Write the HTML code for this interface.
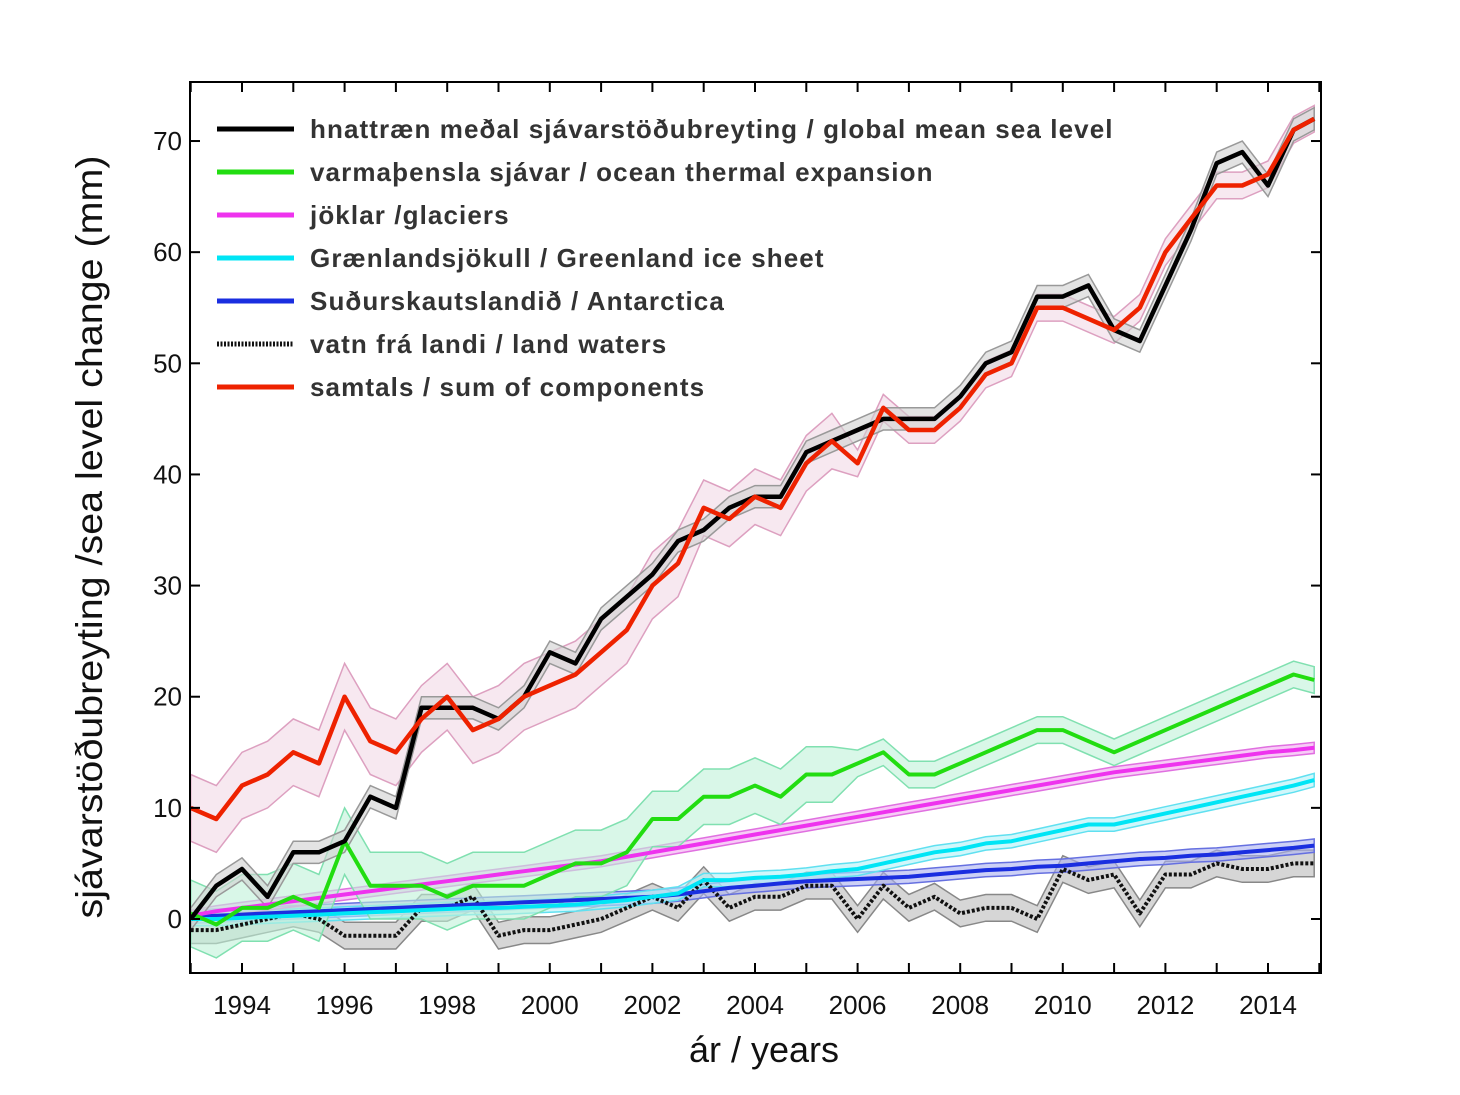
<!DOCTYPE html>
<html><head><meta charset="utf-8">
<style>
body{margin:0;background:#fff;}
svg{display:block;font-family:"Liberation Sans",sans-serif;}
</style></head>
<body>
<svg id="chart" width="1460" height="1095" viewBox="0 0 1460 1095"></svg>
<script>
const years = [];
for (let i = 0; i < 44; i++) years.push(1993 + i * 0.5);
years.push(2014.9);
const gmsl = [0,3,4.5,2,6,6,7,11,10,19,19,19,18,20,24,23,27,29,31,34,35,37,38,38,42,43,44,45,45,45,47,50,51,56,56,57,53,52,57,62,68,69,66,71,72];
const sumComp = [10,9,12,13,15,14,20,16,15,18,20,17,18,20,21,22,24,26,30,32,37,36,38,37,41,43,41,46,44,44,46,49,50,55,55,54,53,55,60,63,66,66,67,71,72];
const thermal = [0.5,-0.5,1,1,2,1,7,3,3,3,2,3,3,3,4,5,5,6,9,9,11,11,12,11,13,13,14,15,13,13,14,15,16,17,17,16,15,16,17,18,19,20,21,22,21.5];
const glaciers = [0.3,0.7,1,1.3,1.6,1.9,2.2,2.5,2.8,3.1,3.4,3.7,4,4.3,4.6,4.9,5.2,5.6,6,6.4,6.8,7.2,7.6,8,8.4,8.8,9.2,9.6,10,10.4,10.8,11.2,11.6,12,12.4,12.8,13.2,13.5,13.8,14.1,14.4,14.7,15,15.2,15.4];
const greenland = [0,0,0.1,0.2,0.3,0.4,0.5,0.6,0.7,0.8,0.9,1,1,1.1,1.2,1.3,1.5,1.7,2,2.3,3.5,3.5,3.7,3.8,4,4.3,4.5,5,5.5,6,6.3,6.8,7,7.5,8,8.5,8.5,9,9.5,10,10.5,11,11.5,12,12.5];
const antarctica = [0.2,0.3,0.4,0.5,0.6,0.7,0.8,0.9,1,1.1,1.2,1.3,1.4,1.5,1.6,1.7,1.8,1.9,2,2.2,2.5,2.8,3,3.2,3.4,3.5,3.6,3.7,3.8,4,4.2,4.4,4.5,4.7,4.8,5,5.2,5.4,5.5,5.7,5.8,6,6.2,6.4,6.6];
const landWaters = [-1,-1,-0.5,0,0.5,0,-1.5,-1.5,-1.5,1,1,2,-1.5,-1,-1,-0.5,0,1,2,1,3.5,1,2,2,3,3,0,3,1,2,0.5,1,1,0,4.5,3.5,4,0.5,4,4,5,4.5,4.5,5,5];
const yTicks = [0,10,20,30,40,50,60,70];
const xTickLabels = [1994,1996,1998,2000,2002,2004,2006,2008,2010,2012,2014];
const legendLabels = ["hnattræn meðal sjávarstöðubreyting / global mean sea level","varmaþensla sjávar / ocean thermal expansion","jöklar /glaciers","Grænlandsjökull / Greenland ice sheet","Suðurskautslandið / Antarctica","vatn frá landi / land waters","samtals / sum of components"];

const L=190,R=1321,T=82,B=973;
const X = y => 242 + (y-1994)*51.3;
const Y = v => 919 - v*11.114;
const NS="http://www.w3.org/2000/svg";
const svg=document.getElementById('chart');
function mk(tag,attrs,parent){const e=document.createElementNS(NS,tag);for(const k in attrs)e.setAttribute(k,attrs[k]);(parent||svg).appendChild(e);return e;}
function pathOf(vals){return vals.map((v,i)=>(i?'L':'M')+X(years[i]).toFixed(1)+','+Y(v).toFixed(1)).join(' ');}
function bandOf(vals,unc){let up=vals.map((v,i)=>X(years[i]).toFixed(1)+','+Y(v+unc(i)).toFixed(1));let dn=vals.map((v,i)=>X(years[i]).toFixed(1)+','+Y(v-unc(i)).toFixed(1)).reverse();return 'M'+up.join(' L')+' L'+dn.join(' L')+'Z';}

const series=[
 {name:'land-waters',vals:landWaters,col:'#111',fill:'#bbb',bcol:'#888',unc:i=>1.2,dash:'3,2',w:4},
 {name:'antarctica',vals:antarctica,col:'#1a2ee0',fill:'#aab0f0',bcol:'#6670e0',unc:i=>0.6,w:4},
 {name:'greenland',vals:greenland,col:'#00e5f5',fill:'#b0f2f8',bcol:'#60e0f0',unc:i=>0.6,w:4},
 {name:'glaciers',vals:glaciers,col:'#ee33ee',fill:'#f2a8f0',bcol:'#e070e0',unc:i=>0.5,w:4},
 {name:'thermal-expansion',vals:thermal,col:'#22dd11',fill:'#c0f2d8',bcol:'#80e0b0',unc:i=>(i<18?3:(i<26?2.5:1.2)),w:4},
 {name:'sum-of-components',vals:sumComp,col:'#ee2200',fill:'#f2d8e6',bcol:'#dda0c0',unc:i=>(i<20?3:(i<26?2.5:1.2)),w:4.5},
 {name:'global-mean-sea-level',vals:gmsl,col:'#000',fill:'#d0d0d0',bcol:'#999',unc:i=>1,w:4.5}
];
series.forEach(s=>{
 const b=mk('path',{d:bandOf(s.vals,s.unc),fill:s.fill,'fill-opacity':0.6,stroke:s.bcol,'stroke-width':1.5});
 
 
});
const order=[0,1,2,3,4,6,5];
order.forEach(k=>{const s=series[k];
 const a={d:pathOf(s.vals),fill:'none',stroke:s.col,'stroke-width':s.w,'stroke-linejoin':'round'};
 if(s.dash)a['stroke-dasharray']=s.dash;
 const p=mk('path',a);
 
 
});
const fr=mk('rect',{x:L,y:T,width:R-L,height:B-T,fill:'none',stroke:'#000','stroke-width':2});


yTicks.forEach(v=>{
 mk('line',{x1:L,x2:L+10,y1:Y(v),y2:Y(v),stroke:'#000','stroke-width':2});
 mk('line',{x1:R,x2:R-10,y1:Y(v),y2:Y(v),stroke:'#000','stroke-width':2});
 const t=mk('text',{x:L-8,y:Y(v)+9,'text-anchor':'end','font-size':26,fill:'#111'});
 t.textContent=v;
 
 
});
for(let yr=1993;yr<=2015;yr++){const x=X(yr);if(x<L||x>R)continue;
 mk('line',{x1:x,x2:x,y1:T,y2:T+10,stroke:'#000','stroke-width':2});
 mk('line',{x1:x,x2:x,y1:B,y2:B-10,stroke:'#000','stroke-width':2});}
xTickLabels.forEach(yr=>{
 const t=mk('text',{x:X(yr),y:1014,'text-anchor':'middle','font-size':26,fill:'#111'});
 t.textContent=yr;
 
 
});
const xt=mk('text',{x:764,y:1062,'text-anchor':'middle','font-size':36,fill:'#111'});
xt.textContent='ár / years';


const yt=mk('text',{x:0,y:0,'text-anchor':'middle','font-size':37,fill:'#111',textLength:763,lengthAdjust:'spacingAndGlyphs',transform:'translate(102,537) rotate(-90)'});
yt.textContent='sjávarstöðubreyting /sea level change (mm)';


const lcols=['#000','#22dd11','#ee33ee','#00e5f5','#1a2ee0','#111','#ee2200'];
legendLabels.forEach((lab,i)=>{
 const y=129+i*43;
 const g=mk('g',{});
 
 
 const a={x1:217,x2:294,y1:y,y2:y,stroke:lcols[i],'stroke-width':5};
 if(i==5)a['stroke-dasharray']='2,1.5';
 mk('line',a,g);
 const t=mk('text',{x:310,y:y+9,'font-size':26,'font-weight':'bold',fill:'#333','letter-spacing':'1.1'},g);
 t.textContent=lab;
});
</script>
</body></html>
